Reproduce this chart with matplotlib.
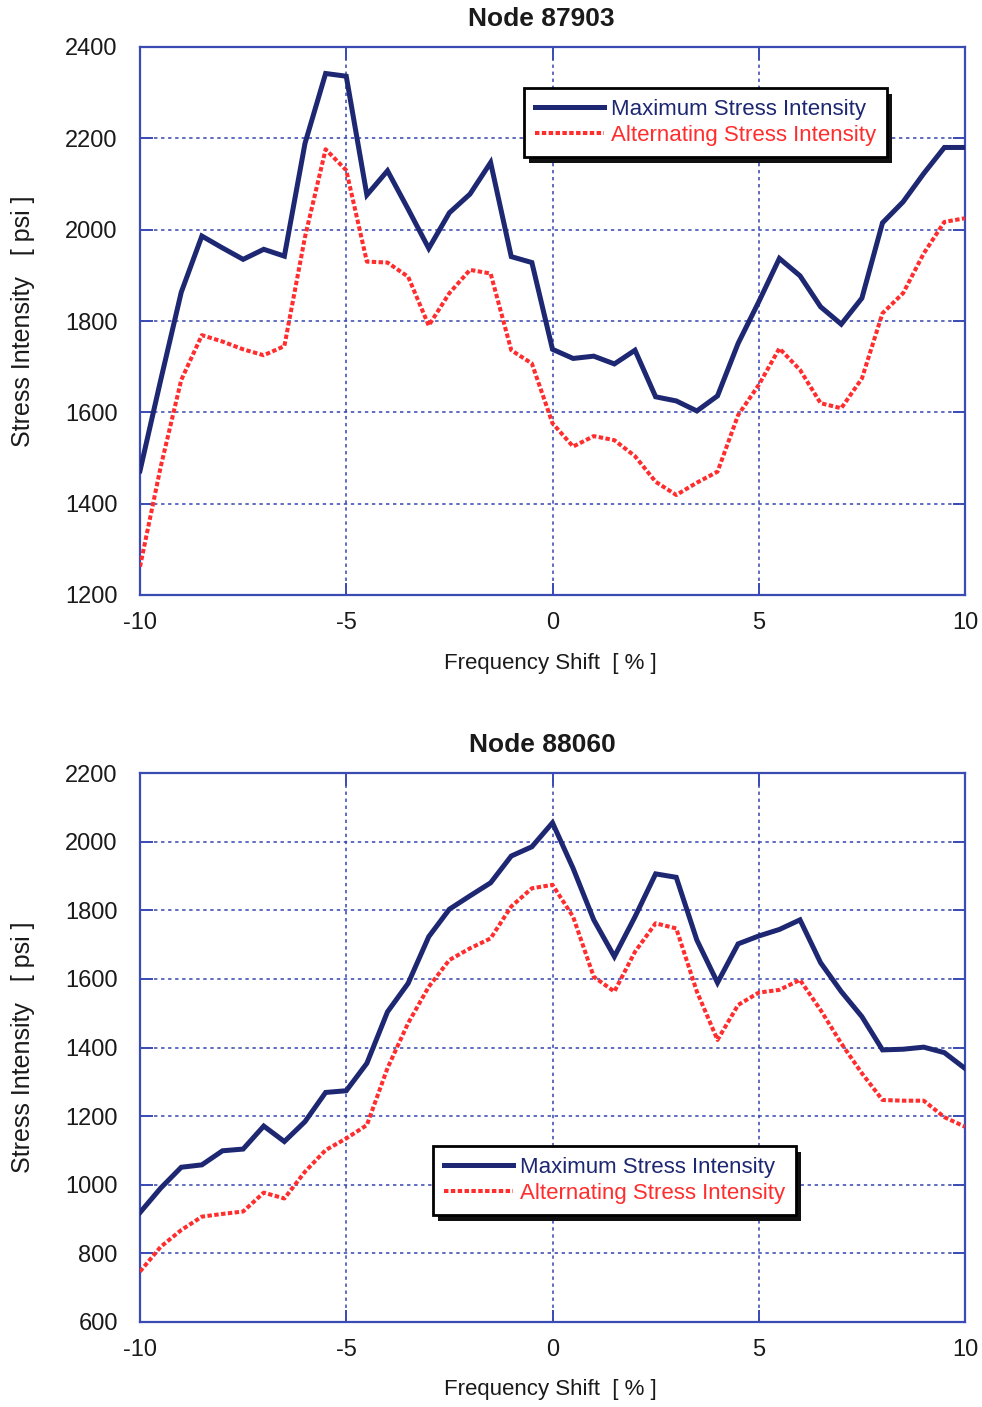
import numpy as np
import matplotlib
matplotlib.use("Agg")
import matplotlib.pyplot as plt
from matplotlib.patches import Rectangle

plt.rcParams['font.family'] = ['Liberation Sans', 'DejaVu Sans']

# Frequency shift in percent, 0.5 % steps
freq_shift = [-10.0, -9.5, -9.0, -8.5, -8.0, -7.5, -7.0, -6.5, -6.0, -5.5, -5.0,
              -4.5, -4.0, -3.5, -3.0, -2.5, -2.0, -1.5, -1.0, -0.5, 0.0,
              0.5, 1.0, 1.5, 2.0, 2.5, 3.0, 3.5, 4.0, 4.5, 5.0,
              5.5, 6.0, 6.5, 7.0, 7.5, 8.0, 8.5, 9.0, 9.5, 10.0]

# Node 87903 [psi]
max_87903 = [1472, 1670, 1863, 1986, 1960, 1935, 1957, 1942, 2189, 2342, 2336,
             2076, 2129, 2045, 1959, 2037, 2078, 2147, 1941, 1928, 1738,
             1718, 1723, 1706, 1736, 1634, 1625, 1603, 1636, 1751, 1842,
             1937, 1899, 1831, 1793, 1850, 2015, 2061, 2123, 2180, 2180]
alt_87903 = [1262, 1480, 1671, 1769, 1755, 1738, 1725, 1745, 1984, 2176, 2130,
             1930, 1928, 1897, 1790, 1861, 1912, 1904, 1736, 1707, 1576,
             1525, 1548, 1539, 1504, 1448, 1419, 1446, 1470, 1594, 1660,
             1740, 1693, 1620, 1609, 1674, 1817, 1861, 1948, 2017, 2025]

# Node 88060 [psi]
max_88060 = [919, 990, 1051, 1058, 1099, 1104, 1171, 1126, 1184, 1269, 1274,
             1354, 1504, 1587, 1723, 1803, 1842, 1880, 1958, 1985, 2055,
             1922, 1772, 1665, 1781, 1906, 1896, 1713, 1589, 1702, 1725,
             1744, 1772, 1647, 1563, 1490, 1393, 1395, 1401, 1385, 1339]
alt_88060 = [747, 819, 868, 907, 915, 922, 977, 960, 1038, 1101, 1135,
             1174, 1340, 1471, 1577, 1655, 1689, 1718, 1811, 1864, 1874,
             1781, 1606, 1563, 1679, 1762, 1747, 1563, 1422, 1524, 1560,
             1568, 1597, 1509, 1412, 1325, 1247, 1245, 1245, 1197, 1169]

series_labels = ["Maximum Stress Intensity", "Alternating Stress Intensity"]
x_ticks = [-10, -5, 0, 5, 10]
y_ticks_87903 = [1200, 1400, 1600, 1800, 2000, 2200, 2400]
y_ticks_88060 = [600, 800, 1000, 1200, 1400, 1600, 1800, 2000, 2200]

W, H = 982, 1407
fig = plt.figure(figsize=(W / 100, H / 100), dpi=100)
fig.patch.set_facecolor('white')

NAVY = '#1d2772'
RED = '#ff2d2d'
GRID = '#3444b0'
SPINE = '#3a4cb4'
TEXT = '#1a1a1a'


def px_rect(left, top, right, bottom):
    return [left / W, 1 - bottom / H, (right - left) / W, (bottom - top) / H]


def panel(rect, title, title_xy, ymax_data, yalt_data, yticks, legend_tl, xlabel_y):
    ax = fig.add_axes(px_rect(*rect))
    ax.plot(freq_shift, ymax_data, color=NAVY, lw=3.6, solid_joinstyle='miter',
            label=series_labels[0], zorder=3)
    ax.plot(freq_shift, yalt_data, color=RED, lw=2.9, linestyle=(0, (1.1, 0.6)),
            dash_capstyle='butt', label=series_labels[1], zorder=3)
    ax.set_xlim(-10, 10)
    ax.set_ylim(yticks[0], yticks[-1])
    ax.set_xticks(x_ticks)
    ax.set_yticks(yticks)
    ax.set_xticklabels([str(t) for t in x_ticks])
    ax.grid(True, color=GRID, linestyle=(0, (2.2, 2.4)), lw=1.1)
    for s in ax.spines.values():
        s.set_color(SPINE)
        s.set_linewidth(1.6)
    ax.tick_params(direction='in', length=9, width=1.4, color=SPINE,
                   top=True, right=True, labelsize=17, labelcolor=TEXT)
    ax.tick_params(axis='x', pad=12)
    ax.tick_params(axis='y', pad=16)

    fig.text(title_xy[0] / W, 1 - title_xy[1] / H, title, ha='center', va='center',
             fontsize=19, fontweight='bold', color=TEXT)
    cy = (rect[1] + rect[3]) / 2
    fig.text(23 / W, 1 - cy / H, "Stress Intensity   [ psi ]", rotation=90,
             ha='center', va='center', fontsize=18, color=TEXT)
    fig.text(550 / W, 1 - xlabel_y / H, "Frequency Shift  [ % ]",
             ha='center', va='center', fontsize=16, color=TEXT)

    leg = ax.legend(loc='upper left',
                    bbox_to_anchor=(legend_tl[0] / W, 1 - legend_tl[1] / H),
                    bbox_transform=fig.transFigure, borderaxespad=0,
                    fontsize=16, handlelength=3.1, handletextpad=0.3,
                    labelspacing=0.2, borderpad=0.5, fancybox=False,
                    framealpha=1, edgecolor='black')
    leg.get_frame().set_linewidth(2.0)
    leg.set_zorder(6)
    for txt, col in zip(leg.get_texts(), [NAVY, RED]):
        txt.set_color(col)
    return ax, leg


ax1, leg1 = panel((140, 47, 965, 595), "Node 87903", (541, 19),
                  max_87903, alt_87903, y_ticks_87903, (524, 88), 663)
ax2, leg2 = panel((140, 773, 965, 1322), "Node 88060", (542, 745),
                  max_88060, alt_88060, y_ticks_88060, (433, 1146), 1390)

# Solid drop shadow under each legend box
fig.canvas.draw()
for ax, leg in [(ax1, leg1), (ax2, leg2)]:
    bb = leg.get_window_extent().transformed(fig.transFigure.inverted())
    off_x, off_y = 5 / W, 6 / H
    shadow = Rectangle((bb.x0 + off_x, bb.y0 - off_y), bb.width, bb.height,
                       transform=fig.transFigure, facecolor='#111111',
                       edgecolor='none', zorder=5.5, clip_on=False)
    ax.add_artist(shadow)

fig.savefig("out.png", dpi=100, facecolor='white')
